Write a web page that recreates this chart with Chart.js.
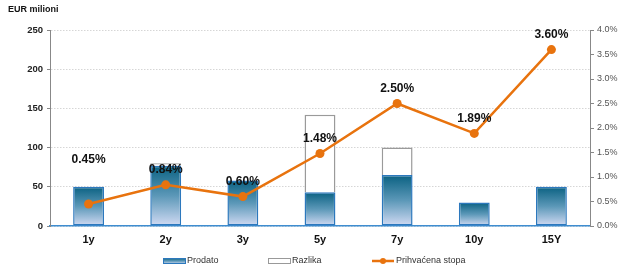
<!DOCTYPE html>
<html>
<head>
<meta charset="utf-8">
<script src="https://cdn.jsdelivr.net/npm/chart.js@4.4.0/dist/chart.umd.min.js"></script>
<style>
  html, body { margin: 0; padding: 0; background: #fff; }
  #wrap { width: 625px; height: 268px; position: relative; }
</style>
</head>
<body>
<div id="wrap"><canvas id="myChart" width="625" height="268"></canvas></div>
<script>
var categories = ["1y", "2y", "3y", "5y", "7y", "10y", "15Y"];
var prodato = [50, 77, 58, 43, 65, 30, 50];
var razlika = [0, 3, 0, 99, 35, 0, 0];
var stopa = [0.45, 0.84, 0.60, 1.48, 2.50, 1.89, 3.60];
var seriesNames = ["Prodato", "Razlika", "Prihvaćena stopa"];

var FONT = "'Liberation Sans', Arial, sans-serif";
var ORANGE = "#e8730e";

function barGradient(ctx, top, base)
{
    var g = ctx.createLinearGradient(0, top, 0, base);
    g.addColorStop(0, "#0a6182");
    g.addColorStop(0.5, "#5c98b8");
    g.addColorStop(1, "#d2dbf4");
    return g;
}

// value labels above line points + title + legend + solid left axis
var extras = {
    id: "extras",
    beforeDatasetsDraw: function(chart)
    {
        var ctx = chart.ctx;
        var a = chart.chartArea;
        ctx.save();
        ctx.strokeStyle = "#888";
        ctx.lineWidth = 1;
        ctx.beginPath();
        ctx.moveTo(a.left + 0.5, a.top);
        ctx.lineTo(a.left + 0.5, a.bottom);
        ctx.stroke();
        ctx.restore();
    },
    afterDatasetsDraw: function(chart)
    {
        var ctx = chart.ctx;
        var meta = chart.getDatasetMeta(2);
        ctx.save();
        ctx.font = "bold 12px " + FONT;
        ctx.fillStyle = "#111";
        ctx.textAlign = "center";
        ctx.textBaseline = "middle";
        meta.data.forEach(function(pt, i)
        {
            var off = i === 0 ? 44 : 15;
            ctx.fillText(stopa[i].toFixed(2) + "%", pt.x, pt.y - off);
        });
        ctx.restore();
    },
    afterDraw: function(chart)
    {
        var ctx = chart.ctx;
        ctx.save();
        ctx.font = "bold 9px " + FONT;
        ctx.fillStyle = "#111";
        ctx.textBaseline = "middle";
        ctx.fillText("EUR milioni", 8, 10);

        var ly = 261;
        ctx.font = "9px " + FONT;
        // Prodato
        ctx.fillStyle = barGradient(ctx, ly - 3, ly + 3);
        ctx.fillRect(163, ly - 3, 22, 6);
        ctx.strokeStyle = "#2c78bd";
        ctx.lineWidth = 1;
        ctx.strokeRect(163.5, ly - 2.5, 22, 5);
        ctx.fillStyle = "#333";
        ctx.fillText(seriesNames[0], 187, ly);
        // Razlika
        ctx.strokeStyle = "#999";
        ctx.strokeRect(268.5, ly - 2.5, 22, 5);
        ctx.fillText(seriesNames[1], 292, ly);
        // line
        ctx.strokeStyle = ORANGE;
        ctx.lineWidth = 2.5;
        ctx.beginPath();
        ctx.moveTo(372, ly);
        ctx.lineTo(394, ly);
        ctx.stroke();
        ctx.fillStyle = ORANGE;
        ctx.beginPath();
        ctx.arc(383, ly, 3, 0, Math.PI * 2);
        ctx.fill();
        ctx.fillStyle = "#333";
        ctx.fillText(seriesNames[2], 396, ly);
        ctx.restore();
    }
};

window.onload = function()
{
    var ctx = document.getElementById("myChart").getContext("2d");

    var myChart = new Chart(ctx,
    {
        type: "bar",
        data:
        {
            labels: categories,
            datasets:
            [
                {
                    label: seriesNames[0],
                    data: prodato,
                    order: 1,
                    yAxisID: "y",
                    backgroundColor: function(c)
                    {
                        var chart = c.chart;
                        if (!chart.chartArea) return "#2a7fa0";
                        var y = chart.scales.y;
                        return barGradient(chart.ctx, y.getPixelForValue(c.raw), y.getPixelForValue(0));
                    },
                    borderColor: "#2c78bd",
                    borderWidth: 1.5,
                    borderSkipped: false,
                    categoryPercentage: 1,
                    barPercentage: 0.4
                },
                {
                    label: seriesNames[1],
                    data: razlika,
                    order: 2,
                    yAxisID: "y",
                    backgroundColor: "#ffffff",
                    borderColor: "#9a9a9a",
                    borderWidth: 1.5,
                    borderSkipped: "bottom",
                    categoryPercentage: 1,
                    barPercentage: 0.4
                },
                {
                    type: "line",
                    label: seriesNames[2],
                    data: stopa,
                    order: 0,
                    yAxisID: "y1",
                    borderColor: ORANGE,
                    backgroundColor: ORANGE,
                    borderWidth: 2.5,
                    pointRadius: 4.5,
                    pointBorderWidth: 0,
                    tension: 0
                }
            ]
        },
        options:
        {
            responsive: false,
            animation: false,
            layout: { padding: { top: 30, left: 0, right: 0, bottom: 0 } },
            plugins:
            {
                legend: { display: false },
                tooltip: { enabled: false }
            },
            scales:
            {
                x:
                {
                    stacked: true,
                    grid: { display: false, drawTicks: false },
                    border: { color: "#3f8dd0", width: 1.5 },
                    ticks: { color: "#111", font: { family: FONT, size: 11, weight: "bold" }, padding: 7 },
                    afterFit: function(s) { s.height = 42; }
                },
                y:
                {
                    stacked: true,
                    position: "left",
                    min: 0,
                    max: 250,
                    ticks: { stepSize: 50, color: "#222", font: { family: FONT, size: 9.5, weight: "bold" }, padding: 4 },
                    grid: { color: "#d6d6d6", tickColor: "#888", tickLength: 3, tickBorderDash: [], drawTicks: true },
                    border: { color: "#888", width: 1, dash: [1.5, 1.5], display: true },
                    afterFit: function(s) { s.width = 50; }
                },
                y1:
                {
                    position: "right",
                    min: 0,
                    max: 4,
                    ticks:
                    {
                        stepSize: 0.5,
                        color: "#555",
                        font: { family: FONT, size: 9 },
                        padding: 3,
                        callback: function(v) { return v.toFixed(1) + "%"; }
                    },
                    grid: { drawOnChartArea: false, tickColor: "#888", tickLength: 4 },
                    border: { color: "#888", width: 1 },
                    afterFit: function(s) { s.width = 35; }
                }
            }
        },
        plugins: [extras]
    });
};
</script>
</body>
</html>
